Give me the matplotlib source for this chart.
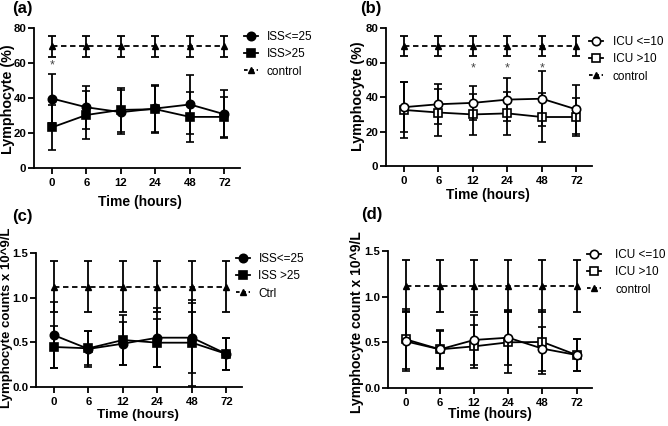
import numpy as np
import matplotlib.pyplot as plt
from matplotlib.lines import Line2D

plt.rcParams['font.family'] = ['Liberation Sans', 'DejaVu Sans']

W, H = 668, 426

# time points (categorical x axis)
times = ['0', '6', '12', '24', '48', '72']

# (a) lymphocyte % by ISS
a_iss_le25 = [39.7, 34.7, 31.9, 34.0, 36.3, 30.7]
a_iss_le25_sd = [14.0, 12.3, 12.5, 13.5, 16.9, 13.8]
a_iss_gt25 = [23.2, 30.3, 33.2, 33.6, 29.2, 29.2]
a_iss_gt25_sd = [13.0, 13.5, 12.5, 13.4, 14.5, 11.5]
a_ctrl = [69.5, 69.5, 69.5, 69.5, 69.5, 69.5]
a_ctrl_sd = [6.0, 6.0, 6.0, 6.0, 6.0, 6.0]
a_stars = [0]

# (b) lymphocyte % by ICU stay
b_icu_le10 = [34.1, 35.8, 36.6, 38.5, 39.0, 32.8]
b_icu_le10_sd = [14.5, 11.5, 10.0, 12.5, 16.0, 14.0]
b_icu_gt10 = [32.5, 31.0, 29.9, 30.5, 28.4, 28.4]
b_icu_gt10_sd = [16.0, 13.7, 12.0, 12.3, 14.2, 11.0]
b_ctrl = [69.5, 69.5, 69.5, 69.5, 69.5, 69.5]
b_ctrl_sd = [6.0, 6.0, 6.0, 6.0, 6.0, 6.0]
b_stars = [2, 3, 4]

# (c) lymphocyte counts by ISS
c_iss_le25 = [0.58, 0.426, 0.485, 0.552, 0.552, 0.37]
c_iss_le25_sd = [0.37, 0.20, 0.24, 0.33, 0.39, 0.175]
c_iss_gt25 = [0.448, 0.433, 0.526, 0.496, 0.496, 0.37]
c_iss_gt25_sd = [0.24, 0.19, 0.28, 0.27, 0.48, 0.175]
c_ctrl = [1.12, 1.12, 1.12, 1.12, 1.12, 1.12]
c_ctrl_sd = [0.285, 0.285, 0.285, 0.285, 0.285, 0.285]

# (d) lymphocyte counts by ICU stay
d_icu_le10 = [0.511, 0.423, 0.526, 0.551, 0.431, 0.361]
d_icu_le10_sd = [0.33, 0.20, 0.274, 0.30, 0.24, 0.18]
d_icu_gt10 = [0.533, 0.423, 0.456, 0.50, 0.504, 0.361]
d_icu_gt10_sd = [0.33, 0.21, 0.234, 0.34, 0.35, 0.18]
d_ctrl = [1.12, 1.12, 1.12, 1.12, 1.12, 1.12]
d_ctrl_sd = [0.285, 0.285, 0.285, 0.285, 0.285, 0.285]


def px_axes(fig, left, right, top, bottom):
    return fig.add_axes([left / W, 1 - bottom / H, (right - left) / W, (bottom - top) / H])


def ptext(fig, x, y, s, **kw):
    return fig.text(x / W, 1 - y / H, s, ha='center', va='center', **kw)


def draw_panel(ax, s1, s1_sd, s2, s2_sd, ctrl, ctrl_sd, open_marks, ylim, yticks, yfmt):
    x = np.arange(len(times))
    fc = 'white' if open_marks else 'black'
    ax.errorbar(x, ctrl, yerr=ctrl_sd, color='black', ls=(0, (3, 2)), lw=1.3, marker='^',
                ms=4.5, capsize=3, capthick=1.3, elinewidth=1.3, zorder=2)
    ax.errorbar(x, s2, yerr=s2_sd, color='black', lw=1.3, marker='s', ms=5.5, mfc=fc,
                mec='black', mew=1.2, capsize=3, capthick=1.3, elinewidth=1.3, zorder=3)
    ax.errorbar(x, s1, yerr=s1_sd, color='black', lw=1.3, marker='o', ms=6, mfc=fc,
                mec='black', mew=1.2, capsize=3, capthick=1.3, elinewidth=1.3, zorder=4)
    ax.set_xlim(-0.52, 5.45)
    ax.set_ylim(*ylim)
    ax.set_xticks(x)
    ax.set_xticklabels(times)
    ax.set_yticks(yticks)
    ax.set_yticklabels([yfmt.format(v) for v in yticks])
    for lab in ax.get_xticklabels() + ax.get_yticklabels():
        lab.set_fontweight('bold')
        lab.set_fontsize(8.2)
    ax.tick_params(axis='y', direction='out', length=4, width=1.3, pad=1.5)
    ax.tick_params(axis='x', direction='out', length=4, width=1.3, pad=3)
    for sp in ['top', 'right']:
        ax.spines[sp].set_visible(False)
    for sp in ['left', 'bottom']:
        ax.spines[sp].set_linewidth(1.3)
    handles = [
        Line2D([0], [0], color='black', lw=1.3, marker='o', ms=6, mfc=fc, mec='black', mew=1.2),
        Line2D([0], [0], color='black', lw=1.3, marker='s', ms=5.5, mfc=fc, mec='black', mew=1.2),
        Line2D([0], [0], color='black', lw=1.3, ls=(0, (2, 1.5)), marker='^', ms=4.5),
    ]
    return handles


def add_legend(ax, handles, labels, left, top, textpad):
    ax.legend(handles, labels, loc='upper left',
              bbox_to_anchor=(left / W, 1 - top / H), bbox_transform=fig.transFigure,
              frameon=False, borderaxespad=0, borderpad=0, handlelength=1.2,
              handletextpad=textpad, labelspacing=0.45, fontsize=8.5)


fig = plt.figure(figsize=(W / 100, H / 100), dpi=100)

# (a)
ax_a = px_axes(fig, 34, 240, 28, 168)
h = draw_panel(ax_a, a_iss_le25, a_iss_le25_sd, a_iss_gt25, a_iss_gt25_sd, a_ctrl, a_ctrl_sd,
               False, (0, 80), [0, 20, 40, 60, 80], '{:.0f}')
add_legend(ax_a, h, ['ISS<=25', 'ISS>25', 'control'], 244, 31, 0.7)
for i in a_stars:
    ax_a.text(i, 58.7, '*', ha='center', va='center', fontsize=9, color='#444444')
ptext(fig, 8, 99, 'Lymphocyte (%)', fontsize=10.3, fontweight='bold', rotation=90)
ptext(fig, 140, 202, 'Time (hours)', fontsize=10, fontweight='bold')

# (b)
ax_b = px_axes(fig, 386, 592, 28, 166)
h = draw_panel(ax_b, b_icu_le10, b_icu_le10_sd, b_icu_gt10, b_icu_gt10_sd, b_ctrl, b_ctrl_sd,
               True, (0, 80), [0, 20, 40, 60, 80], '{:.0f}')
add_legend(ax_b, h, ['ICU <=10', 'ICU >10', 'control'], 589, 36, 0.8)
for i in b_stars:
    ax_b.text(i, 56.6, '*', ha='center', va='center', fontsize=9, color='#444444')
ptext(fig, 358, 96, 'Lymphocyte (%)', fontsize=10.3, fontweight='bold', rotation=90)
ptext(fig, 488, 195, 'Time (hours)', fontsize=10, fontweight='bold')

# (c)
ax_c = px_axes(fig, 36, 242, 253, 387)
h = draw_panel(ax_c, c_iss_le25, c_iss_le25_sd, c_iss_gt25, c_iss_gt25_sd, c_ctrl, c_ctrl_sd,
               False, (0, 1.5), [0.0, 0.5, 1.0, 1.5], '{:.1f}')
add_legend(ax_c, h, ['ISS<=25', 'ISS >25', 'Ctrl'], 236, 253, 0.7)
ptext(fig, 7.5, 318, 'Lymphocyte counts x 10^9/L', fontsize=9.5, fontweight='bold', rotation=90)
ptext(fig, 138, 415, 'Time (hours)', fontsize=9.7, fontweight='bold')

# (d)
ax_d = px_axes(fig, 388, 592, 251, 388)
h = draw_panel(ax_d, d_icu_le10, d_icu_le10_sd, d_icu_gt10, d_icu_gt10_sd, d_ctrl, d_ctrl_sd,
               True, (0, 1.5), [0.0, 0.5, 1.0, 1.5], '{:.1f}')
add_legend(ax_d, h, ['ICU <=10', 'ICU >10', 'control'], 587, 249, 1.2)
ptext(fig, 356.5, 322, 'Lymphocyte count x 10^9/L', fontsize=10, fontweight='bold', rotation=90)
ptext(fig, 490, 414, 'Time (hours)', fontsize=10, fontweight='bold')

# panel letters
for lbl, (px, py) in zip(['(a)', '(b)', '(c)', '(d)'],
                         [(22, 9), (371, 9), (22, 216), (372, 215)]):
    ptext(fig, px, py, lbl, fontsize=12, fontweight='bold')

fig.savefig('out.png', dpi=100)
